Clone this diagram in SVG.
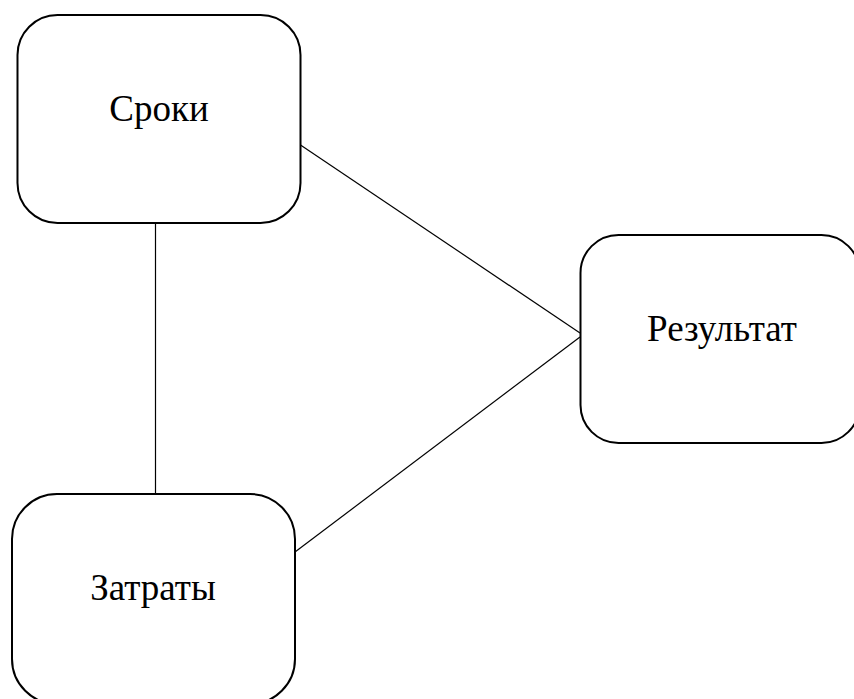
<svg xmlns="http://www.w3.org/2000/svg" width="854" height="699" viewBox="0 0 854 699">
<style>
.box{fill:#fff;stroke:#000;stroke-width:2}
.lbl{font-family:"Liberation Serif","Times New Roman",serif;font-size:37px;fill:#000;text-anchor:middle}
.conn line{stroke:#000;stroke-width:1.2}
</style>
<rect width="854" height="699" fill="#fff"/>
<g id="connectors" class="conn">
<line x1="155.5" y1="224" x2="155.5" y2="494"/>
<line x1="300.5" y1="145" x2="580" y2="333"/>
<line x1="295" y1="552" x2="580" y2="337"/>
</g>
<g id="sroki">
<rect class="box" x="17.5" y="15" width="283" height="208" rx="40" ry="40"/>
<text class="lbl" x="159" y="121">Сроки</text>
</g>
<g id="rezultat">
<rect class="box" x="580.5" y="235" width="279" height="208" rx="38" ry="38"/>
<text class="lbl" x="722" y="341">Результат</text>
</g>
<g id="zatraty">
<rect class="box" x="12" y="494" width="283" height="210" rx="45" ry="45"/>
<text class="lbl" x="153" y="600">Затраты</text>
</g>
</svg>
